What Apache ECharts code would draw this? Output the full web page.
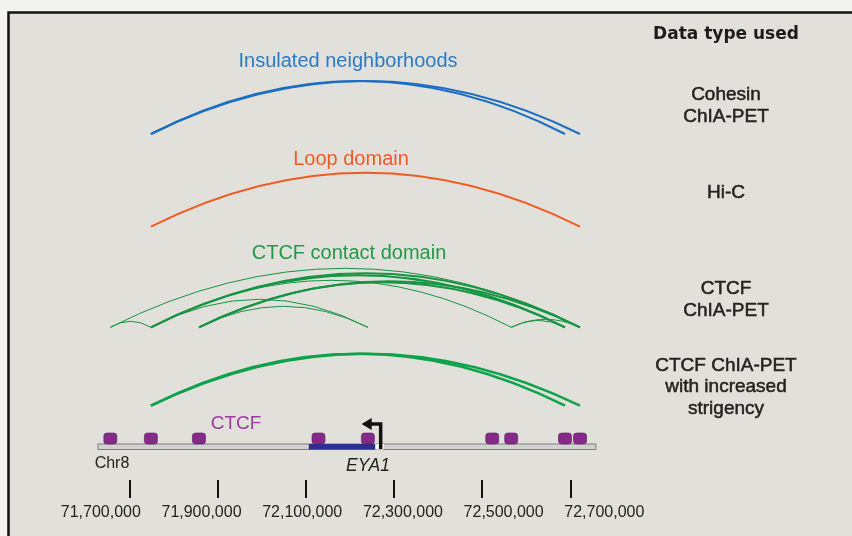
<!DOCTYPE html>
<html>
<head>
<meta charset="utf-8">
<title>EYA1 neighborhood</title>
<script src="https://cdn.jsdelivr.net/npm/echarts@6.0.0/dist/echarts.min.js"></script>
<style>
  html, body { margin: 0; padding: 0; background: #f3f3f1; }
  #chart { width: 852px; height: 536px; }
</style>
</head>
<body>
<div id="chart"></div>
<script>
// genomic positions on chr8 (bp)
const tickValues = [71700000, 71900000, 72100000, 72300000, 72500000, 72700000];
const ctcfSites = [71657000, 71749000, 71858000, 72129000, 72241000, 72523000, 72566000, 72688000, 72722000];
const chrom8 = [71629000, 72758000];
const eya1 = [72107000, 72258000];
const eya1Tss = 72270000;

// arcs: [start, end, arc height]
const insulatedArcs = [[71749000, 72688000, 53], [71749000, 72722000, 53]];
const loopArcs = [[71749000, 72722000, 54]];
const ctcfArcsStrong = [[71749000, 72688000, 52], [71749000, 72722000, 54], [71858000, 72722000, 46], [71858000, 72688000, 45]];
const ctcfArcsWeak = [[71657000, 72722000, 59], [71749000, 72566000, 47], [71749000, 72241000, 28], [71858000, 72241000, 21],
  [71657000, 71749000, 6], [72566000, 72688000, 7], [72566000, 72722000, 8]];
const strictArcs = [[71749000, 72688000, 52], [71749000, 72722000, 52]];

// track baselines (y axis units) and texts
const trackLevels = [346, 253.3, 152.7, 74.3];
const trackTitles = ['Insulated neighborhoods', 'Loop domain', 'CTCF contact domain'];
const dataTypes = ['Cohesin\nChIA-PET', 'Hi-C', 'CTCF\nChIA-PET', 'CTCF ChIA-PET\nwith increased\nstrigency'];
const chromLevel = 33;
const siteLevel = 41.5;

let myChart = echarts.init(document.getElementById('chart'));

function withBase(arcs, level) {
  return arcs.map(a => [a[0], a[1], level, a[2]]);
}

function arcSeries(name, arcs, level, color, width) {
  return {
    name: name,
    type: 'custom',
    data: withBase(arcs, level),
    renderItem: function (params, api) {
      const s = api.value(0), e = api.value(1), base = api.value(2), h = api.value(3);
      const p1 = api.coord([s, base]);
      const p2 = api.coord([e, base]);
      const cp = api.coord([(s + e) / 2, base + 2 * h]);
      return {
        type: 'bezierCurve',
        shape: { x1: p1[0], y1: p1[1], x2: p2[0], y2: p2[1], cpx1: cp[0], cpy1: cp[1] },
        style: { stroke: color, lineWidth: width, fill: 'none' }
      };
    },
    z: 3
  };
}

function fmt(v) {
  return String(v).replace(/\B(?=(\d{3})+(?!\d))/g, ',');
}

const sans = '"Liberation Sans", Arial, sans-serif';

let texts = [
  { type: 'rect', z: -10, shape: { x: 8.5, y: 12.5, width: 900, height: 600 },
    style: { fill: '#e2e0da', stroke: '#111', lineWidth: 2.5 } },
  { type: 'text', x: 726, y: 35, style: { text: 'Data type used', fontSize: 17, fontWeight: 'bold',
    fontFamily: '"DejaVu Sans", sans-serif', fill: '#1c1c1c', align: 'center', verticalAlign: 'middle' } },
  { type: 'text', x: 236, y: 424, style: { text: 'CTCF', fontSize: 19, fontFamily: sans,
    fill: '#9b3ba0', align: 'center', verticalAlign: 'middle' } },
  { type: 'text', x: 112, y: 464, style: { text: 'Chr8', fontSize: 16, fontFamily: sans,
    fill: '#222', align: 'center', verticalAlign: 'middle' } },
  { type: 'text', x: 368, y: 466, style: { text: 'EYA1', fontSize: 17.5, fontStyle: 'italic', fontFamily: sans,
    fill: '#222', align: 'center', verticalAlign: 'middle' } }
];
const titleColors = ['#2a7bc4', '#f05a28', '#1f9a4a'];
const titleY = [61, 159, 253];
const titleX = [348, 351, 349];
trackTitles.forEach((t, i) => {
  texts.push({ type: 'text', x: titleX[i], y: titleY[i], style: { text: t, fontSize: 20, fontFamily: sans,
    fill: titleColors[i], align: 'center', verticalAlign: 'middle' } });
});
const typeY = [106, 193, 300, 387];
dataTypes.forEach((t, i) => {
  texts.push({ type: 'text', x: 726, y: typeY[i], style: { text: t, fontSize: 19, fontFamily: sans, lineHeight: 21.7,
    fill: '#222', stroke: '#222', lineWidth: 0.5, align: 'center', verticalAlign: 'middle' } });
});

myChart.setOption({
  backgroundColor: '#f3f3f1',
  animation: false,
  graphic: texts,
  grid: { left: 41.1, width: 617.4, top: 0, height: 480, outerBoundsMode: 'none' },
  xAxis: [{
    type: 'value',
    min: 71500000,
    max: 72900000,
    position: 'bottom',
    axisLine: { show: false },
    axisTick: { show: true, length: 18, lineStyle: { color: '#111', width: 2 }, customValues: tickValues },
    axisLabel: { show: false },
    splitLine: { show: false }
  }, {
    // tick labels sit on a slightly wider spacing than the ticks in the original figure
    type: 'value',
    min: 71581400,
    max: 72807600,
    position: 'bottom',
    axisLine: { show: false },
    axisTick: { show: false },
    axisLabel: { customValues: tickValues, formatter: fmt, fontSize: 16, fontFamily: sans, color: '#222', margin: 25 },
    splitLine: { show: false }
  }],
  yAxis: { type: 'value', min: 0, max: 480, show: false },
  series: [
    arcSeries('Insulated neighborhoods', insulatedArcs, trackLevels[0], '#1b6ec2', 2),
    arcSeries('Loop domain', loopArcs, trackLevels[1], '#f15a22', 2),
    arcSeries('CTCF contact domain', ctcfArcsStrong, trackLevels[2], '#169443', 2),
    arcSeries('CTCF contact domain weak', ctcfArcsWeak, trackLevels[2], '#169443', 1),
    arcSeries('CTCF ChIA-PET strict', strictArcs, trackLevels[3], '#0ea24b', 2.6),
    {
      name: 'chr8',
      type: 'custom',
      data: [[chrom8[0], chrom8[1], eya1[0], eya1[1], eya1Tss]],
      renderItem: function (params, api) {
        const c1 = api.coord([api.value(0), chromLevel]);
        const c2 = api.coord([api.value(1), chromLevel]);
        const g1 = api.coord([api.value(2), chromLevel]);
        const g2 = api.coord([api.value(3), chromLevel]);
        const t = api.coord([api.value(4), chromLevel]);
        const top = c1[1] - 3;
        return {
          type: 'group',
          children: [
            { type: 'rect', shape: { x: c1[0], y: top, width: c2[0] - c1[0], height: 5.5 },
              style: { fill: '#d2d2d2', stroke: '#7d7d7d', lineWidth: 1 } },
            { type: 'rect', shape: { x: g1[0], y: top, width: g2[0] - g1[0], height: 5.5 },
              style: { fill: '#2b2f8f' } },
            { type: 'rect', shape: { x: g2[0], y: top, width: t[0] - g2[0] + 3, height: 5.5 },
              style: { fill: '#ffffff' } },
            { type: 'polyline', shape: { points: [[t[0], top + 5], [t[0], top - 20], [t[0] - 10, top - 20]] },
              style: { stroke: '#111', lineWidth: 3.5, fill: 'none' } },
            { type: 'polygon', shape: { points: [[t[0] - 19, top - 20], [t[0] - 9, top - 26], [t[0] - 9, top - 14]] },
              style: { fill: '#111' } }
          ]
        };
      },
      z: 2
    },
    {
      name: 'CTCF',
      type: 'scatter',
      data: ctcfSites.map(p => [p, siteLevel]),
      symbol: 'roundRect',
      symbolSize: [13, 11],
      itemStyle: { color: '#862a8a', borderColor: '#5c1a60', borderWidth: 0.6, opacity: 1 },
      z: 4
    }
  ]
});
</script>
</body>
</html>
